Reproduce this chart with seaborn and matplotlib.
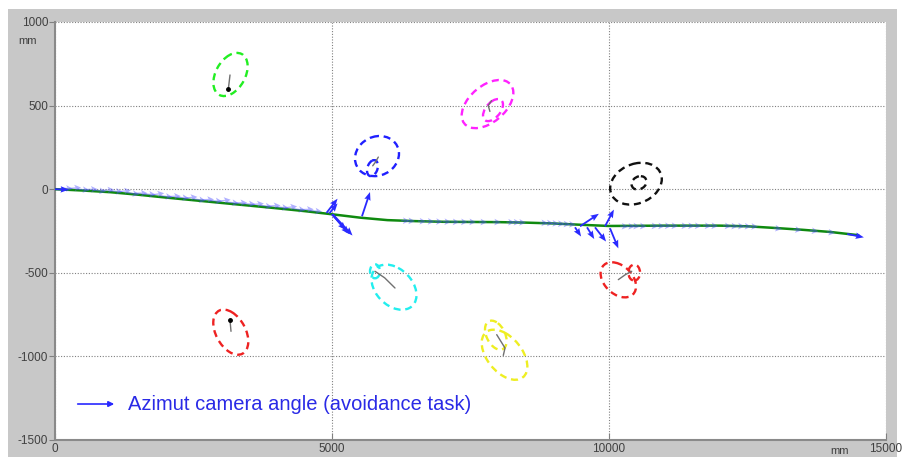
import numpy as np
import matplotlib
matplotlib.use('Agg')
import matplotlib.pyplot as plt
from matplotlib.patches import Ellipse, Rectangle
import seaborn as sns

# robot trajectory (mm)
traj_x = [0, 500, 1000, 1500, 2000, 2500, 3000, 3500, 4000, 4500, 5000, 5500, 6000,
          6500, 7000, 7500, 8000, 8500, 9000, 9500, 10000, 10500, 11000, 11500, 12000,
          12500, 13000, 13500, 14000, 14500]
traj_y = [0, -8, -18, -33, -50, -66, -82, -98, -114, -131, -150, -170, -185,
          -191, -195, -196, -197, -200, -205, -213, -220, -219, -218, -218, -218,
          -222, -232, -243, -256, -275]

# camera azimut, small arrows along the path
small_x = [100, 250, 400, 550, 700, 850, 1000, 1150, 1300, 1450, 1600, 1750, 1900, 2050,
           2200, 2350, 2500, 2650, 2800, 2950, 3100, 3250, 3400, 3550, 3700, 3850, 4000,
           4150, 4300, 4450, 4600,
           6250, 6350, 6550, 6700, 6850, 7000, 7150, 7300, 7450, 7650, 7900, 8150, 8250,
           8350, 8750, 8850, 8950, 9050, 9150, 9250,
           10200, 10320, 10410, 10530, 10740, 10860, 10980, 11100, 11280, 11400, 11520,
           11700, 11820, 12060, 12180, 12300, 12420, 12540, 12970, 13330, 13630, 13930]
small_y = [6, 4, 1, -2, -5, -7, -10, -15, -20, -24, -29, -34, -39, -44,
           -48, -53, -58, -63, -68, -72, -77, -82, -87, -92, -96, -101, -106,
           -111, -117, -122, -128,
           -188, -189, -191, -192, -193, -194, -195, -195, -195, -196, -196, -197, -197,
           -198, -201, -202, -204, -206, -208, -210,
           -221, -221, -220, -220, -219, -219, -218, -218, -218, -218, -218,
           -218, -218, -219, -220, -220, -221, -222, -232, -240, -247, -256]
small_u = [220] * 31 + [150] * 20 + [150] * 22
small_v = [-3, 6, -8, 2, -10, 4, -6, 8, -12, 0, -4, 10, -9, 3, -6, 7, -11, 2, -5, 9,
           -8, 1, -3, 6, -10, 4, -7, 8, -9, 2, -6] + [-2] * 20 + [-3] * 18 + [-6] * 4

# large arrows (avoidance task)
big_x = [0, 4900, 4950, 5000, 5000, 5020, 5541, 9477, 9928, 9386, 9603, 9747, 10018, 14300]
big_y = [0, -142, -145, -150, -150, -152, -162, -222, -222, -228, -228, -228, -234, -268]
big_u = [250, 200, 150, 250, 310, 350, 145, 340, 160, 110, 130, 200, 150, 300]
big_v = [-3, 85, 60, -95, -118, -125, 145, 75, 100, -55, -70, -85, -120, -20]

# obstacle uncertainty ellipses: centre, half extent in x / y, correlation
ell_cx = [3168, 5812, 5731, 7807, 7906, 10487, 10542, 6119, 5776, 3173, 10168, 10455, 8114, 7957]
ell_cy = [686, 198, 126, 509, 473, 33, 38, -586, -491, -855, -542, -499, -990, -873]
ell_hx = [309, 397, 99, 466, 180, 466, 135, 406, 90, 316, 320, 105, 412, 195]
ell_hy = [129, 120, 48, 144, 66, 125, 40, 135, 42, 135, 105, 48, 150, 87]
ell_rho = [0.38, 0.12, 0.3, 0.47, 0.5, 0.22, 0.2, -0.35, 0.0, -0.41, -0.37, 0.0, -0.47, -0.4]
ell_col = ['#22ee22', '#2020ff', '#2020ff', '#ff22ff', '#ff22ff', '#111111', '#111111',
           '#22eeee', '#22eeee', '#ee2222', '#ee2222', '#ee2222', '#eeee22', '#eeee22']

# estimated obstacle tracks
track_x = [[3159, 3128], [5735, 5780, 5836], [7880, 7820, 7850], [5776, 5950, 6137],
           [3159, 3177], [10168, 10300, 10410], [7973, 8123, 8092]]
track_y = [[683, 597], [140, 160, 192], [530, 500, 465], [-491, -530, -591],
           [-784, -850], [-541, -510, -491], [-870, -950, -994]]
dot_x = [3128, 3159]
dot_y = [597, -784]


def draw():
    sns.set_style('white')
    plt.rcParams['font.family'] = ['Liberation Sans', 'DejaVu Sans']
    plt.rcParams['axes.unicode_minus'] = False

    fig = plt.figure(figsize=(9.03, 4.57), dpi=100)
    fig.patch.set_facecolor('white')
    fig.add_artist(Rectangle((0.0089, 0), 0.9845, 0.9803, transform=fig.transFigure,
                             facecolor='#c8c8c8', edgecolor='none', zorder=-1))
    ax = fig.add_axes([0.0609, 0.0372, 0.9203, 0.9147])
    ax.set_facecolor('white')

    sns.lineplot(x=traj_x, y=traj_y, ax=ax, color='#0f8a0f', lw=1.8, sort=False, zorder=3)
    ax.quiver(small_x, small_y, small_u, small_v, angles='xy', scale_units='xy', scale=1,
              color='#5050ff', alpha=0.45, width=0.0016, headwidth=5, headlength=5,
              headaxislength=4, zorder=4)
    ax.quiver(big_x, big_y, big_u, big_v, angles='xy', scale_units='xy', scale=1,
              color='#2a2aff', width=0.0022, headwidth=3.5, headlength=4.5,
              headaxislength=4, zorder=5)

    for cx, cy, hx, hy, r, col in zip(ell_cx, ell_cy, ell_hx, ell_hy, ell_rho, ell_col):
        cov = np.array([[hx ** 2, r * hx * hy], [r * hx * hy, hy ** 2]])
        vals, vecs = np.linalg.eigh(cov)
        ang = np.degrees(np.arctan2(vecs[1, 1], vecs[0, 1]))
        ax.add_patch(Ellipse((cx, cy), 2 * np.sqrt(vals[1]), 2 * np.sqrt(vals[0]), angle=ang,
                             fill=False, edgecolor=col, lw=1.7, linestyle=(0, (3, 2)), zorder=6))

    for tx, ty in zip(track_x, track_y):
        ax.plot(tx, ty, color='#707070', lw=1, zorder=7)
    ax.plot(dot_x, dot_y, 'o', color='black', ms=2.5, zorder=8)

    ax.set_xlim(0, 15000)
    ax.set_ylim(-1500, 1000)
    ax.set_xticks([0, 5000, 10000, 15000])
    ax.set_yticks([-1500, -1000, -500, 0, 500, 1000])
    ax.grid(True, color='#808080', linestyle=(0, (1, 1.5)), lw=0.8)
    for s in ['top', 'right']:
        ax.spines[s].set_visible(False)
    for s in ['left', 'bottom']:
        ax.spines[s].set_color('#8a8a8a')
        ax.spines[s].set_linewidth(1.5)
    ax.tick_params(axis='y', direction='out', length=4, color='#808080', labelsize=8.5,
                   labelcolor='#404040', pad=1, left=True)
    ax.tick_params(axis='x', direction='in', length=5, color='#808080', labelsize=8.5,
                   labelcolor='#404040', pad=2, bottom=True)

    fig.text(0.031, 0.911, 'mm', fontsize=8, color='#404040', ha='center', va='center')
    fig.text(0.930, 0.014, 'mm', fontsize=8, color='#404040', ha='center', va='center')

    ax.annotate('', xy=(0.0746, 0.0861), xytext=(0.024, 0.0861), xycoords='axes fraction',
                arrowprops=dict(arrowstyle='-|>', color='#2828ff', lw=1.2, mutation_scale=8))
    ax.text(0.0878, 0.0861, 'Azimut camera angle (avoidance task)', transform=ax.transAxes,
            va='center', color='#2a2ae6', fontsize=14.5)

    fig.savefig('out.png', dpi=100)


draw()
